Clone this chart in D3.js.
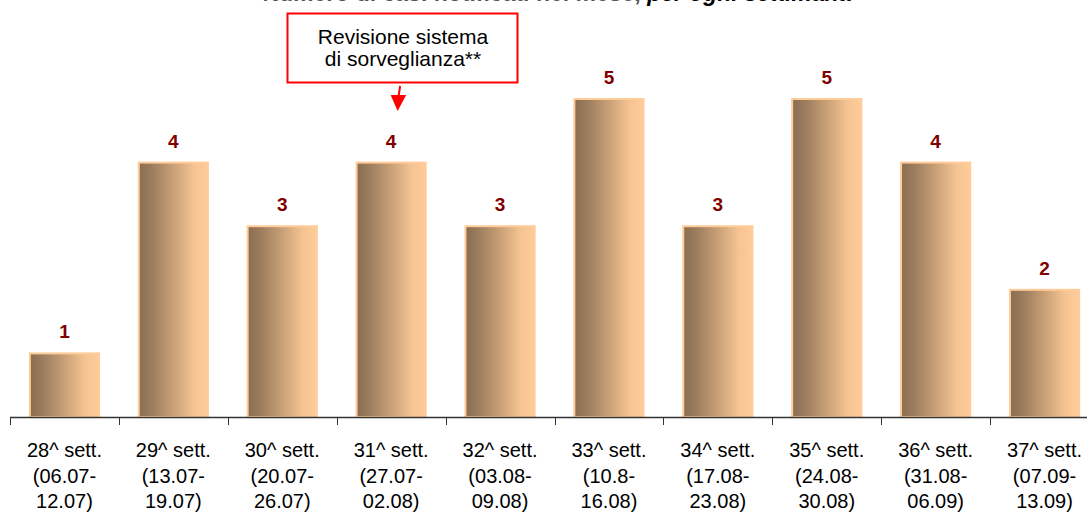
<!DOCTYPE html>
<html>
<head>
<meta charset="utf-8">
<script src="https://cdn.jsdelivr.net/npm/d3@7"></script>
<style>
  html, body { margin: 0; padding: 0; background: #ffffff; }
  svg { display: block; font-family: Arial, "Liberation Sans", sans-serif; }
</style>
</head>
<body>
<svg id="chart" width="1087" height="514"></svg>
<script>
// Weekly cases, weeks 28 to 37
const weeks = ["28^ sett.", "29^ sett.", "30^ sett.", "31^ sett.", "32^ sett.",
               "33^ sett.", "34^ sett.", "35^ sett.", "36^ sett.", "37^ sett."];
const periodStart = ["(06.07-", "(13.07-", "(20.07-", "(27.07-", "(03.08-",
                     "(10.8-", "(17.08-", "(24.08-", "(31.08-", "(07.09-"];
const periodEnd = ["12.07)", "19.07)", "26.07)", "02.08)", "09.08)",
                   "16.08)", "23.08)", "30.08)", "06.09)", "13.09)"];
const cases = [1, 4, 3, 4, 3, 5, 3, 5, 4, 2];

const titleMain = "Numero di casi notificati nel mese, ";
const titleSub = "per ogni settimana";
const noteLines = ["Revisione sistema", "di sorveglianza**"];
const noteWeek = "31^ sett.";

const svg = d3.select("#chart");

const x = d3.scaleBand().domain(weeks).range([10, 1099]).padding(0);
const y = d3.scaleLinear().domain([0, 5]).range([417, 99]);
const barW = x.bandwidth() * 0.635;

// Bar shading: dark brown on the left to peach on the right
const defs = svg.append("defs");
const grad = defs.append("linearGradient")
  .attr("id", "barShade").attr("x1", "0").attr("x2", "1").attr("y1", "0").attr("y2", "0");
[[0, "#8a6e51"], [0.2, "#9d7e5f"], [0.5, "#c9a077"], [0.8, "#f5c492"], [1, "#ffcc99"]]
  .forEach(([o, c]) => grad.append("stop").attr("offset", o).attr("stop-color", c));

// Title (runs off the top edge)
const title = svg.append("text")
  .attr("x", 557).attr("y", 0.5)
  .attr("text-anchor", "middle")
  .style("font-size", "23px").style("font-weight", "bold");
title.append("tspan").attr("fill", "#555555").text(titleMain);
title.append("tspan").attr("fill", "#000000").style("font-style", "italic").text(titleSub);

// Bars
svg.append("g").selectAll("rect")
  .data(cases)
  .join("rect")
  .attr("x", (d, i) => x(weeks[i]) + (x.bandwidth() - barW) / 2)
  .attr("y", d => y(d))
  .attr("width", barW)
  .attr("height", d => y(0) - y(d))
  .attr("fill", "url(#barShade)")
  .attr("stroke", "#ffcc99")
  .attr("stroke-width", 2);

// Value labels
svg.append("g").selectAll("text")
  .data(cases)
  .join("text")
  .attr("x", (d, i) => x(weeks[i]) + x.bandwidth() / 2)
  .attr("y", d => y(d) - 15)
  .attr("text-anchor", "middle")
  .attr("fill", "#800000")
  .style("font-size", "19px").style("font-weight", "bold")
  .text(d => d);

// Category axis with ticks on the band boundaries
const axis = svg.append("g");
axis.append("line")
  .attr("x1", 10).attr("x2", 1087)
  .attr("y1", y(0) + 0.5).attr("y2", y(0) + 0.5)
  .attr("stroke", "#333333").attr("stroke-width", 1.5);
axis.selectAll("line.tick")
  .data(weeks)
  .join("line")
  .attr("class", "tick")
  .attr("x1", d => Math.round(x(d)) + 0.5).attr("x2", d => Math.round(x(d)) + 0.5)
  .attr("y1", y(0)).attr("y2", y(0) + 8)
  .attr("stroke", "#333333").attr("stroke-width", 1);

const labels = axis.selectAll("text.cat")
  .data(weeks)
  .join("text")
  .attr("class", "cat")
  .attr("text-anchor", "middle")
  .attr("fill", "#000000")
  .style("font-size", "20px");
labels.append("tspan")
  .attr("x", d => x(d) + x.bandwidth() / 2).attr("y", 457)
  .text(d => d);
labels.append("tspan")
  .attr("x", d => x(d) + x.bandwidth() / 2).attr("y", 482.5)
  .text((d, i) => periodStart[i]);
labels.append("tspan")
  .attr("x", d => x(d) + x.bandwidth() / 2).attr("y", 508)
  .text((d, i) => periodEnd[i]);

// Annotation box with arrow pointing at the week of the change
const note = svg.append("g");
const noteX = x(noteWeek) + x.bandwidth() / 2;
note.append("rect")
  .attr("x", 287.5).attr("y", 13.5).attr("width", 230).attr("height", 69)
  .attr("fill", "#ffffff").attr("stroke", "#ff0000").attr("stroke-width", 2);
note.selectAll("text")
  .data(noteLines)
  .join("text")
  .attr("x", 403).attr("y", (d, i) => 44 + i * 21.5)
  .attr("text-anchor", "middle")
  .attr("fill", "#000000")
  .style("font-size", "21px")
  .text(d => d);
note.append("line")
  .attr("x1", noteX + 9).attr("y1", 86).attr("x2", noteX + 7.3).attr("y2", 97)
  .attr("stroke", "#ff0000").attr("stroke-width", 2);
note.append("path")
  .attr("d", `M${noteX - 0.5},95 L${noteX + 15},95 L${noteX + 6.5},111 Z`)
  .attr("fill", "#ff0000");
</script>
</body>
</html>
